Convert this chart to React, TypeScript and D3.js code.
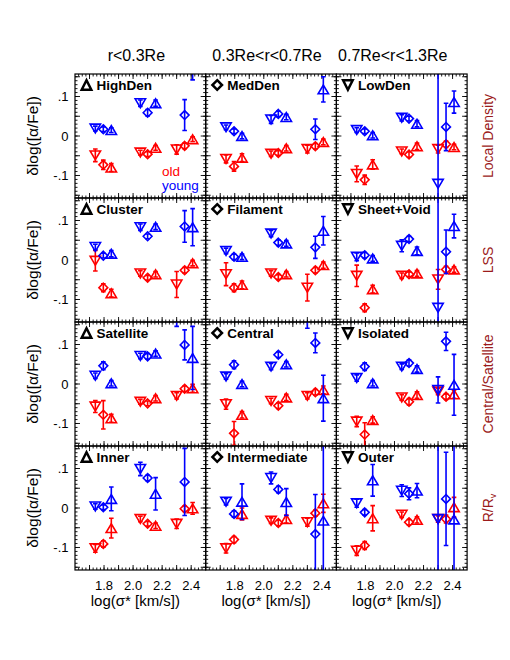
import React from 'react';
import * as d3 from 'd3';

// column / row / panel labels
const columnTitles = ['r<0.3Re', '0.3Re<r<0.7Re', '0.7Re<r<1.3Re'];
const rowTitles = ['Local Density', 'LSS', 'Central/Satellite', 'R/R'];
const panelNames = [
  'HighDen', 'MedDen', 'LowDen',
  'Cluster', 'Filament', 'Sheet+Void',
  'Satellite', 'Central', 'Isolated',
  'Inner', 'Intermediate', 'Outer',
];

// log(sigma*) of each point, order: [down, diamond, up] x three sigma bins
const sigmaPoints = [1.74, 1.795, 1.85, 2.05, 2.10, 2.155, 2.30, 2.355, 2.41];

const xTickValues = [1.8, 2.0, 2.2, 2.4];
const xTickLabels = ['1.8', '2.0', '2.2', '2.4'];
const yTickValues = [0.1, 0, -0.1];
const yTickLabels = ['.1', '0', '-.1'];

// values (null = not plotted) and errors, same point order as sigmaPoints
const highDenOld = [-0.049, -0.073, -0.080, -0.042, -0.046, -0.030, -0.034, -0.025, -0.008];
const highDenOldErr = [0.016, 0.012, 0.010, 0.006, 0.006, 0.006, 0.012, 0.007, 0.006];
const highDenYoung = [0.019, 0.017, 0.015, 0.083, 0.059, 0.083, null, 0.053, 0.2];
const highDenYoungErr = [0.006, 0.006, 0.006, 0.008, 0.008, 0.008, 0, 0.039, 0.058];

const medDenOld = [-0.058, -0.077, -0.055, -0.045, -0.043, -0.031, -0.033, -0.026, -0.015];
const medDenOldErr = [0.010, 0.012, 0.010, 0.007, 0.006, 0.007, 0.010, 0.007, 0.007];
const medDenYoung = [0.022, 0.012, 0.000, 0.042, 0.056, 0.048, null, 0.017, 0.118];
const medDenYoungErr = [0.006, 0.006, 0.007, 0.010, 0.007, 0.007, 0, 0.026, 0.032];

const lowDenOld = [-0.096, -0.111, -0.072, -0.039, -0.047, -0.026, -0.033, -0.021, -0.028];
const lowDenOldErr = [0.020, 0.012, 0.012, 0.006, 0.007, 0.008, 0.010, 0.008, 0.007];
const lowDenYoung = [0.015, 0.012, 0.002, 0.046, 0.044, 0.031, -0.121, 0.023, 0.086];
const lowDenYoungErr = [0.006, 0.006, 0.007, 0.008, 0.006, 0.008, 0.4, 0.06, 0.028];

const clusterOld = [-0.002, -0.070, -0.084, -0.034, -0.045, -0.036, -0.062, -0.026, -0.008];
const clusterOldErr = [0.026, 0.010, 0.010, 0.007, 0.006, 0.007, 0.033, 0.007, 0.007];
const clusterYoung = [0.033, 0.011, 0.016, 0.083, 0.060, 0.084, null, 0.085, 0.083];
const clusterYoungErr = [0.007, 0.006, 0.008, 0.008, 0.006, 0.007, 0, 0.040, 0.047];

const filamentOld = [-0.036, -0.070, -0.063, -0.034, -0.043, -0.036, -0.070, -0.026, -0.013];
const filamentOldErr = [0.029, 0.010, 0.010, 0.007, 0.006, 0.007, 0.034, 0.007, 0.008];
const filamentYoung = [0.023, 0.008, 0.008, 0.067, 0.044, 0.042, null, 0.032, 0.074];
const filamentYoungErr = [0.007, 0.007, 0.007, 0.008, 0.007, 0.007, 0, 0.028, 0.036];

const sheetVoidOld = [-0.040, -0.121, -0.074, -0.040, -0.036, -0.034, -0.049, -0.024, -0.024];
const sheetVoidOldErr = [0.027, 0.010, 0.010, 0.007, 0.006, 0.007, 0.025, 0.008, 0.007];
const sheetVoidYoung = [0.008, 0.012, 0.004, 0.036, 0.053, 0.023, -0.121, 0.021, 0.086];
const sheetVoidYoungErr = [0.010, 0.007, 0.007, 0.015, 0.007, 0.010, 0.4, 0.055, 0.030];

const satelliteOld = [-0.057, -0.078, -0.087, -0.045, -0.049, -0.036, -0.030, -0.012, -0.011];
const satelliteOldErr = [0.015, 0.036, 0.010, 0.006, 0.006, 0.007, 0.008, 0.007, 0.010];
const satelliteYoung = [0.021, 0.046, 0.002, 0.071, 0.070, 0.077, 0.2, 0.099, 0.066];
const satelliteYoungErr = [0.007, 0.010, 0.007, 0.007, 0.007, 0.007, 0.054, 0.038, 0.08];

const centralOld = [-0.051, -0.125, -0.078, -0.043, -0.055, -0.034, -0.030, -0.021, -0.015];
const centralOldErr = [0.013, 0.030, 0.008, 0.007, 0.007, 0.008, 0.008, 0.007, 0.010];
const centralYoung = [0.019, 0.049, 0.000, 0.044, 0.074, 0.050, 0.2, 0.104, -0.036];
const centralYoungErr = [0.007, 0.010, 0.007, 0.008, 0.007, 0.007, 0.059, 0.025, 0.058];

const isolatedOld = [-0.095, -0.128, -0.091, -0.034, -0.045, -0.028, -0.019, -0.032, -0.026];
const isolatedOldErr = [0.013, 0.030, 0.008, 0.007, 0.008, 0.008, 0.008, 0.007, 0.010];
const isolatedYoung = [0.015, 0.044, 0.002, 0.044, 0.053, 0.038, -0.015, 0.108, -0.002];
const isolatedYoungErr = [0.008, 0.010, 0.007, 0.007, 0.008, 0.008, 0.033, 0.023, 0.077];

const innerOld = [-0.102, -0.091, -0.051, -0.028, -0.040, -0.045, -0.040, -0.002, -0.001];
const innerOldErr = [0.010, 0.008, 0.025, 0.007, 0.006, 0.007, 0.012, 0.007, 0.015];
const innerYoung = [0.004, 0.002, 0.023, 0.099, 0.076, 0.036, null, 0.066, null];
const innerYoungErr = [0.007, 0.006, 0.030, 0.017, 0.007, 0.041, 0, 0.085, 0];

const intermediateOld = [-0.102, -0.080, -0.015, -0.032, -0.038, -0.028, -0.036, -0.013, 0.012];
const intermediateOldErr = [0.012, 0.008, 0.015, 0.007, 0.007, 0.010, 0.010, 0.008, 0.023];
const intermediateYoung = [0.016, -0.015, 0.016, 0.076, 0.047, 0.015, null, -0.066, -0.032];
const intermediateYoungErr = [0.008, 0.008, 0.045, 0.015, 0.008, 0.034, 0, 0.10, 0.3];

const outerOld = [-0.108, -0.095, -0.026, -0.017, -0.036, -0.030, -0.028, -0.028, 0.002];
const outerOldErr = [0.012, 0.010, 0.032, 0.007, 0.007, 0.008, 0.008, 0.010, 0.025];
const outerYoung = [0.012, -0.011, 0.070, 0.044, 0.036, 0.044, -0.028, 0.023, -0.029];
const outerYoungErr = [0.010, 0.007, 0.040, 0.015, 0.015, 0.018, 0.4, 0.118, 0.4];

const panelData = [
  [highDenOld, highDenOldErr, highDenYoung, highDenYoungErr],
  [medDenOld, medDenOldErr, medDenYoung, medDenYoungErr],
  [lowDenOld, lowDenOldErr, lowDenYoung, lowDenYoungErr],
  [clusterOld, clusterOldErr, clusterYoung, clusterYoungErr],
  [filamentOld, filamentOldErr, filamentYoung, filamentYoungErr],
  [sheetVoidOld, sheetVoidOldErr, sheetVoidYoung, sheetVoidYoungErr],
  [satelliteOld, satelliteOldErr, satelliteYoung, satelliteYoungErr],
  [centralOld, centralOldErr, centralYoung, centralYoungErr],
  [isolatedOld, isolatedOldErr, isolatedYoung, isolatedYoungErr],
  [innerOld, innerOldErr, innerYoung, innerYoungErr],
  [intermediateOld, intermediateOldErr, intermediateYoung, intermediateYoungErr],
  [outerOld, outerOldErr, outerYoung, outerYoungErr],
];

const FONT = '"Liberation Sans", Arial, sans-serif';
const RED = '#ff0000';
const BLUE = '#0000ff';
const DARKRED = '#9b1b1b';

// layout
const left0 = 75;
const top0 = 74;
const pw = 130.7;
const ph = 124;
const titleShift = [-4, -4, -9];

const x = d3.scaleLinear().domain([1.6, 2.5]).range([0, pw]);
const y = d3.scaleLinear().domain([-0.157, 0.157]).range([ph, 0]);

// 0 = down triangle, 1 = diamond, 2 = up triangle
function symbolPath(k: number, s: number, hr = 0.85) {
  if (k === 0) return `M${-s},${-s * hr}L${s},${-s * hr}L0,${s * hr}Z`;
  if (k === 1) return `M0,${-s}L${s},0L0,${s}L${-s},0Z`;
  return `M${-s},${s * hr}L${s},${s * hr}L0,${-s * hr}Z`;
}

const labelSymbol = [2, 1, 0];

function Series({ vals, errs, color }: { vals: (number | null)[]; errs: number[]; color: string }) {
  return (
    <g stroke={color} fill="none" strokeWidth={1.6}>
      {vals.map((v, i) => {
        if (v === null) return null;
        const cx = x(sigmaPoints[i]);
        const y1 = y(v + errs[i]);
        const y2 = y(v - errs[i]);
        return (
          <g key={i}>
            <line x1={cx} x2={cx} y1={y1} y2={y2} />
            <line x1={cx - 2.3} x2={cx + 2.3} y1={y1} y2={y1} />
            <line x1={cx - 2.3} x2={cx + 2.3} y1={y2} y2={y2} />
            <path
              d={symbolPath(i % 3, i % 3 === 1 ? 4.4 : 5.2)}
              transform={`translate(${cx},${y(v)})`}
            />
          </g>
        );
      })}
    </g>
  );
}

function Panel({ idx }: { idx: number }) {
  const col = idx % 3;
  const row = Math.floor(idx / 3);
  const [oldV, oldE, youngV, youngE] = panelData[idx] as any;
  const xMinor = d3.range(1.625, 2.5, 0.025);
  const xMajor = d3.range(1.7, 2.45, 0.1);
  const yMinor = d3.range(-0.15, 0.155, 0.01);
  const yMajor = d3.range(-0.15, 0.155, 0.05);
  return (
    <g transform={`translate(${left0 + col * pw},${top0 + row * ph})`}>
      <clipPath id={`clip${idx}`}>
        <rect x={0} y={0} width={pw} height={ph} />
      </clipPath>
      <g stroke="#000" strokeWidth={0.9}>
        {xMinor.map((t, i) => (
          <g key={'xm' + i}>
            <line x1={x(t)} x2={x(t)} y1={ph} y2={ph - 2.5} />
            <line x1={x(t)} x2={x(t)} y1={0} y2={2.5} />
          </g>
        ))}
        {xMajor.map((t, i) => (
          <g key={'xM' + i}>
            <line x1={x(t)} x2={x(t)} y1={ph} y2={ph - 5} />
            <line x1={x(t)} x2={x(t)} y1={0} y2={5} />
          </g>
        ))}
        {yMinor.map((t, i) => (
          <g key={'ym' + i}>
            <line x1={0} x2={2.5} y1={y(t)} y2={y(t)} />
            <line x1={pw} x2={pw - 2.5} y1={y(t)} y2={y(t)} />
          </g>
        ))}
        {yMajor.map((t, i) => (
          <g key={'yM' + i}>
            <line x1={0} x2={5} y1={y(t)} y2={y(t)} />
            <line x1={pw} x2={pw - 5} y1={y(t)} y2={y(t)} />
          </g>
        ))}
      </g>
      <g clipPath={`url(#clip${idx})`}>
        <Series vals={oldV} errs={oldE} color={RED} />
        <Series vals={youngV} errs={youngE} color={BLUE} />
      </g>
      <rect x={0} y={0} width={pw} height={ph} fill="none" stroke="#000" strokeWidth={1.2} />
      <path
        d={symbolPath(labelSymbol[col], 4.8, 1)}
        transform="translate(11.5,11)"
        fill="none"
        stroke="#000"
        strokeWidth={2.5}
      />
      <text x={21.5} y={16} fontFamily={FONT} fontSize={13.5} fontWeight="bold" fill="#000">
        {panelNames[idx]}
      </text>
      {idx === 0 && (
        <g fontFamily={FONT} fontSize={13.5}>
          <text x={87} y={101.5} fill={RED}>old</text>
          <text x={87} y={116} fill={BLUE}>young</text>
        </g>
      )}
    </g>
  );
}

export default function App() {
  const rows = [0, 1, 2, 3];
  const cols = [0, 1, 2];
  return (
    <svg
      width={510}
      height={660}
      style={{ position: 'absolute', left: 0, top: 0, background: '#fff' }}
      fontFamily={FONT}
    >
      <rect width={510} height={660} fill="#fff" />
      {cols.map((c) => (
        <text
          key={'ct' + c}
          x={left0 + c * pw + pw / 2 + titleShift[c]}
          y={61}
          fontSize={16}
          textAnchor="middle"
        >
          {columnTitles[c]}
        </text>
      ))}
      {d3.range(12).map((i) => (
        <Panel key={i} idx={i} />
      ))}
      {rows.map((r) => (
        <g key={'r' + r}>
          {yTickValues.map((v, j) => (
            <text
              key={j}
              x={68.5}
              y={top0 + r * ph + y(v) + 4.5}
              fontSize={13}
              textAnchor="end"
            >
              {yTickLabels[j]}
            </text>
          ))}
          <text
            transform={`translate(38,${top0 + r * ph + ph / 2}) rotate(-90)`}
            fontSize={15.5}
            textAnchor="middle"
          >
            δlog([α/Fe])
          </text>
          <text
            transform={`translate(493,${top0 + r * ph + ph / 2}) rotate(-90)`}
            fontSize={14}
            textAnchor="middle"
            fill={DARKRED}
          >
            {rowTitles[r]}
            {r === 3 && (
              <tspan fontSize={9} dy={3}>v</tspan>
            )}
          </text>
        </g>
      ))}
      {cols.map((c) => (
        <g key={'xa' + c}>
          {xTickValues.map((v, j) => (
            <text
              key={j}
              x={left0 + c * pw + x(v)}
              y={590}
              fontSize={13}
              textAnchor="middle"
            >
              {xTickLabels[j]}
            </text>
          ))}
          <text x={left0 + c * pw + pw / 2 - 5} y={606} fontSize={15} textAnchor="middle">
            log(σ* [km/s])
          </text>
        </g>
      ))}
    </svg>
  );
}
